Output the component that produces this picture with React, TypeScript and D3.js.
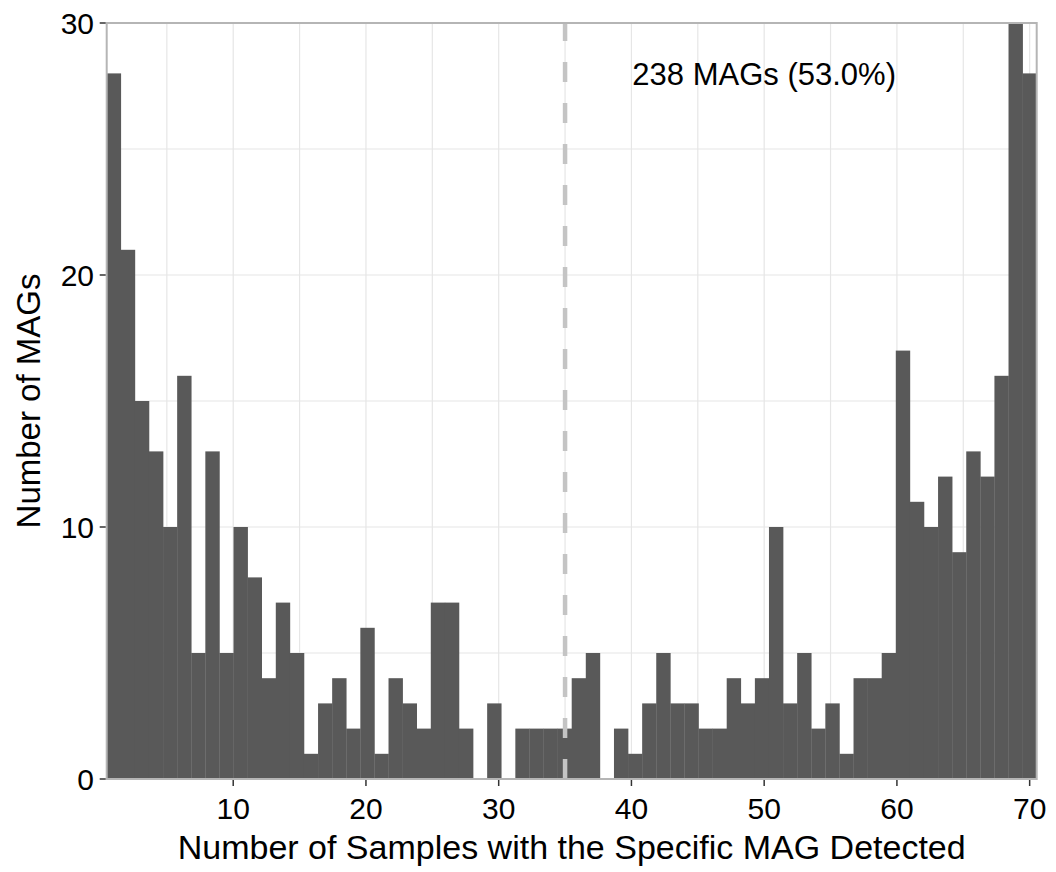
import { useEffect, useRef } from "react";
import * as d3 from "d3";

// counts per bin, 66 bins spanning 1..70 samples
const binCounts = [
  28, 21, 15, 13, 10, 16, 5, 13, 5, 10, 8, 4, 7, 5, 1, 3, 4, 2,
  6, 1, 4, 3, 2, 7, 7, 2, 0, 3, 0, 2, 2, 2, 2,
  4, 5, 0, 2, 1, 3, 5, 3, 3, 2, 2, 4, 3, 4, 10, 3, 5, 2, 3, 1,
  4, 4, 5, 17, 11, 10, 12, 9, 13, 12, 16, 30, 28,
];
const sampleMin = 1;
const sampleMax = 70;
const xTicks = [10, 20, 30, 40, 50, 60, 70];
const xMinor = [5, 15, 25, 35, 45, 55, 65];
const yTicks = [0, 10, 20, 30];
const yMinor = [5, 15, 25];
const cutoff = 35;
const annotation = { x: 50, y: 28, text: "238 MAGs (53.0%)" };
const xTitle = "Number of Samples with the Specific MAG Detected";
const yTitle = "Number of MAGs";

const W = 1056;
const H = 872;
const plot = { left: 106.7, right: 1036.7, top: 23, bottom: 779 };

const App = () => {
  const svgRef = useRef<SVGSVGElement | null>(null);

  useEffect(() => {
    const svg = d3.select(svgRef.current);
    svg.selectAll("*").remove();

    const bw = (sampleMax - sampleMin) / (binCounts.length - 1);
    const bins = binCounts.map((c, i) => {
      const mid = sampleMin + i * bw;
      return { x0: mid - bw / 2, x1: mid + bw / 2, count: c };
    });

    const x = d3
      .scaleLinear()
      .domain([bins[0].x0, bins[bins.length - 1].x1])
      .range([plot.left, plot.right]);
    const y = d3.scaleLinear().domain([0, 30]).range([plot.bottom, plot.top]);

    const font = "Liberation Sans, Arial, sans-serif";

    // grid
    const grid = svg.append("g");
    grid
      .selectAll(".vg")
      .data([...xMinor, ...xTicks])
      .enter()
      .append("line")
      .attr("x1", (d) => x(d))
      .attr("x2", (d) => x(d))
      .attr("y1", plot.top)
      .attr("y2", plot.bottom)
      .attr("stroke", "#e6e6e6")
      .attr("stroke-width", 1.2);
    grid
      .selectAll(".hg")
      .data([...yMinor, ...yTicks.slice(1, -1)])
      .enter()
      .append("line")
      .attr("x1", plot.left)
      .attr("x2", plot.right)
      .attr("y1", (d) => y(d))
      .attr("y2", (d) => y(d))
      .attr("stroke", "#e6e6e6")
      .attr("stroke-width", 1.2);

    // bars
    svg
      .append("g")
      .selectAll("rect")
      .data(bins)
      .enter()
      .append("rect")
      .attr("x", (d) => x(d.x0))
      .attr("width", (d) => x(d.x1) - x(d.x0) + 0.3)
      .attr("y", (d) => y(d.count))
      .attr("height", (d) => y(0) - y(d.count))
      .attr("fill", "#595959");

    // cutoff line
    svg
      .append("line")
      .attr("x1", x(cutoff))
      .attr("x2", x(cutoff))
      .attr("y1", y(0))
      .attr("y2", y(30))
      .attr("stroke", "#c4c4c4")
      .attr("stroke-width", 4.5)
      .attr("stroke-dasharray", "20 21");

    // panel border
    svg
      .append("rect")
      .attr("x", plot.left)
      .attr("y", plot.top)
      .attr("width", plot.right - plot.left)
      .attr("height", plot.bottom - plot.top)
      .attr("fill", "none")
      .attr("stroke", "#b5b5b5")
      .attr("stroke-width", 2);

    // x axis
    const xAxis = svg.append("g");
    xTicks.forEach((t) => {
      xAxis
        .append("line")
        .attr("x1", x(t))
        .attr("x2", x(t))
        .attr("y1", plot.bottom + 1)
        .attr("y2", plot.bottom + 7)
        .attr("stroke", "#333")
        .attr("stroke-width", 1.5);
      xAxis
        .append("text")
        .attr("x", x(t))
        .attr("y", 819)
        .attr("text-anchor", "middle")
        .attr("font-family", font)
        .attr("font-size", 30)
        .attr("fill", "#000")
        .text(t);
    });

    // y axis
    const yAxis = svg.append("g");
    yTicks.forEach((t) => {
      yAxis
        .append("line")
        .attr("x1", plot.left - 1)
        .attr("x2", plot.left - 7)
        .attr("y1", y(t))
        .attr("y2", y(t))
        .attr("stroke", "#333")
        .attr("stroke-width", 1.5);
      yAxis
        .append("text")
        .attr("x", 94)
        .attr("y", y(t))
        .attr("dy", "0.36em")
        .attr("text-anchor", "end")
        .attr("font-family", font)
        .attr("font-size", 30)
        .attr("fill", "#000")
        .text(t);
    });

    // annotation
    svg
      .append("text")
      .attr("x", x(annotation.x))
      .attr("y", y(annotation.y))
      .attr("dy", "0.36em")
      .attr("text-anchor", "middle")
      .attr("font-family", font)
      .attr("font-size", 31)
      .attr("fill", "#000")
      .text(annotation.text);

    // titles
    svg
      .append("text")
      .attr("x", (plot.left + plot.right) / 2)
      .attr("y", 859)
      .attr("text-anchor", "middle")
      .attr("font-family", font)
      .attr("font-size", 34)
      .attr("fill", "#000")
      .text(xTitle);

    svg
      .append("text")
      .attr("transform", `translate(40, ${(plot.top + plot.bottom) / 2}) rotate(-90)`)
      .attr("text-anchor", "middle")
      .attr("font-family", font)
      .attr("font-size", 33)
      .attr("fill", "#000")
      .text(yTitle);
  }, []);

  return (
    <div style={{ position: "absolute", left: 0, top: 0 }}>
      <svg ref={svgRef} width={W} height={H} style={{ display: "block", background: "#fff" }}></svg>
    </div>
  );
};

export default App;
